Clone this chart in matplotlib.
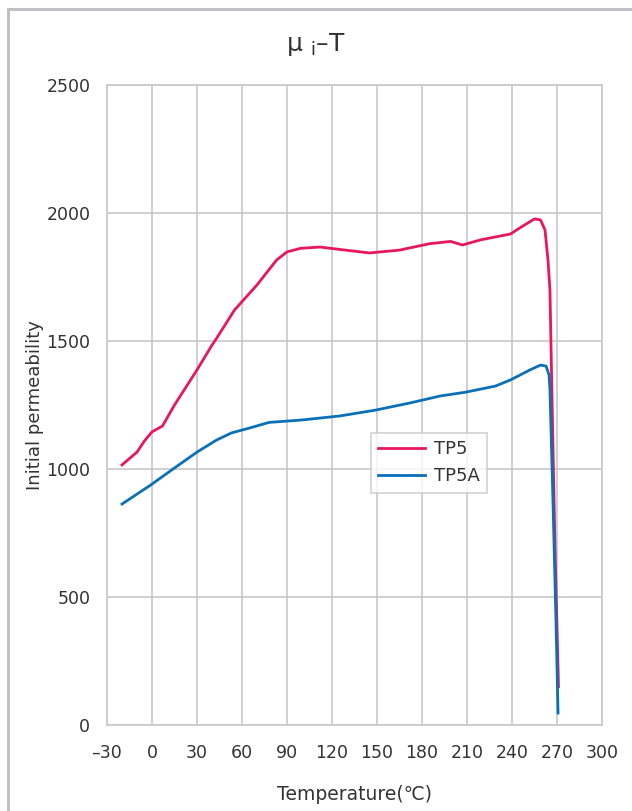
import matplotlib.pyplot as plt
from matplotlib.patches import Rectangle

plt.rcParams['font.family'] = ['DejaVu Sans', 'Noto Sans CJK JP']

# TP5 curve (temperature degC, initial permeability)
tp5_t = [-20, -10, -5, 0, 7, 15, 30, 40, 43, 55, 70, 83, 90, 99, 112, 129, 145,
         165, 185, 199, 207, 219, 239, 245, 255, 259, 262, 264, 265.3, 266.7,
         268.7, 271]
tp5_mu = [1016, 1066, 1110, 1145, 1168, 1250, 1387, 1484, 1510, 1621, 1719, 1816,
          1848, 1862, 1867, 1855, 1844, 1855, 1880, 1889, 1875, 1895, 1918, 1941,
          1977, 1973, 1934, 1816, 1699, 1270, 684, 150]

# TP5A curve
tp5a_t = [-20, -10, -1, 15, 30, 43, 53, 65, 78, 99, 125, 149, 172, 192, 209, 219,
          229, 239, 252, 259, 262.7, 264.7, 265.3, 267.3, 269.3, 270.7]
tp5a_mu = [863, 902, 937, 1004, 1066, 1113, 1141, 1160, 1182, 1191, 1207, 1230,
           1258, 1285, 1300, 1312, 1324, 1348, 1387, 1406, 1402, 1367, 1309, 879,
           410, 47]

x_ticks = [-30, 0, 30, 60, 90, 120, 150, 180, 210, 240, 270, 300]
x_labels = ['–30'] + [str(v) for v in x_ticks[1:]]
y_ticks = [0, 500, 1000, 1500, 2000, 2500]

txt = '#333333'
grid_c = '#c8c8cc'

fig = plt.figure(figsize=(6.32, 8.11), dpi=100)
fig.patches.append(Rectangle((8 / 632, -0.1), 1.2, 1 - 9 / 811 + 0.1,
                             transform=fig.transFigure, fill=False,
                             edgecolor='#c0c0c6', linewidth=2.2))
ax = fig.add_axes([107 / 632, 1 - 725 / 811, 495 / 632, 640 / 811])

ax.plot(tp5_t, tp5_mu, color='#e8175d', linewidth=2.0, label='TP5')
ax.plot(tp5a_t, tp5a_mu, color='#0a70b8', linewidth=2.0, label='TP5A')

ax.set_xlim(-30, 300)
ax.set_ylim(0, 2500)
ax.set_xticks(x_ticks)
ax.set_xticklabels(x_labels)
ax.set_yticks(y_ticks)
ax.grid(True, color=grid_c, linewidth=1.2)
ax.set_axisbelow(True)
for s in ax.spines.values():
    s.set_color(grid_c)
    s.set_linewidth(1.2)
ax.tick_params(length=0, labelsize=12.5, labelcolor=txt)
ax.tick_params(axis='x', pad=14)
ax.tick_params(axis='y', pad=12)

ax.set_xlabel('Temperature(℃)', fontsize=13.5, color=txt, labelpad=16)
ax.set_ylabel('Initial permeability', fontsize=13, color=txt, labelpad=2)
fig.text(0.5, 1 - 45 / 811, 'μ $_{\\mathregular{i}}$–T', ha='center', va='center',
         fontsize=18, color=txt)

leg = ax.legend(loc='upper left', bbox_to_anchor=(0.533, 0.456), borderaxespad=0,
                fancybox=False, fontsize=13, handlelength=2.6, labelcolor=txt,
                handletextpad=0.5)
leg.get_frame().set_edgecolor('#c8c8c8')
leg.get_frame().set_linewidth(1.2)

fig.savefig('out.png', dpi=100)
